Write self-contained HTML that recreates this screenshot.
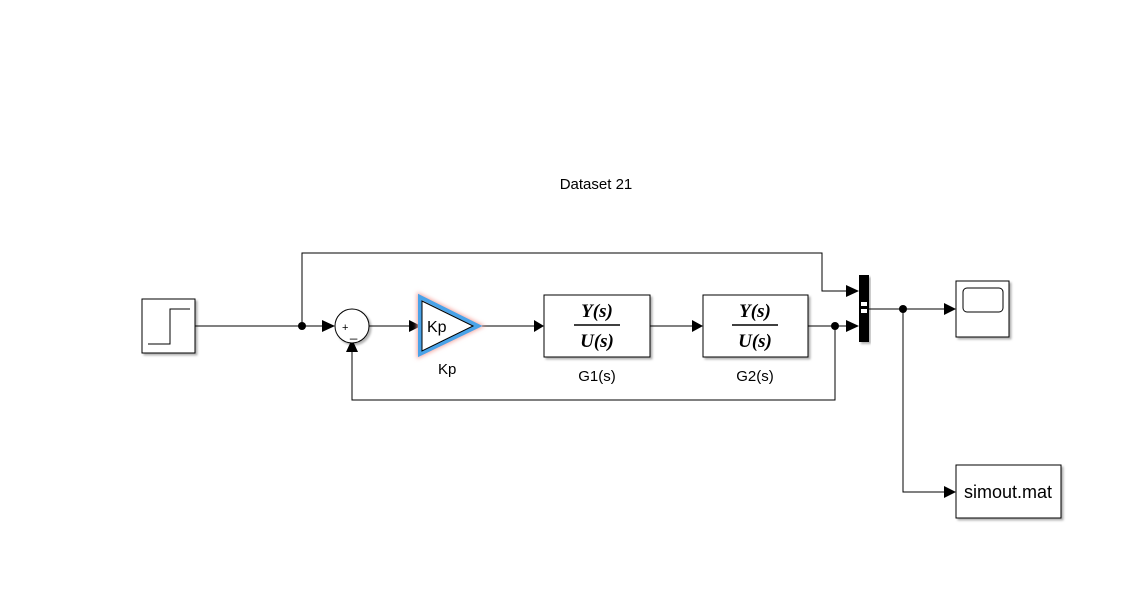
<!DOCTYPE html>
<html><head><meta charset="utf-8"><style>
html,body{margin:0;padding:0;background:#fff;}
svg{display:block;font-family:"Liberation Sans",sans-serif;}
</style></head><body>
<svg width="1122" height="589" viewBox="0 0 1122 589" xmlns="http://www.w3.org/2000/svg">
<defs>
<filter id="sh" x="-10%" y="-10%" width="130%" height="130%"><feDropShadow dx="2" dy="2" stdDeviation="1" flood-color="#000" flood-opacity="0.3"/></filter>
<filter id="glow" x="-30%" y="-30%" width="160%" height="160%"><feGaussianBlur stdDeviation="2"/></filter>
</defs>
<text x="596" y="189" font-size="15" text-anchor="middle">Dataset 21</text>
<g stroke="#000" stroke-width="1" fill="none">
<path d="M195 326H322"/>
<path d="M302 326V253H822V291H848"/>
<path d="M369 326H409"/>
<path d="M478 326H534"/>
<path d="M650 326H692"/>
<path d="M808 326H848"/>
<path d="M835 326V400H352V351"/>
<path d="M869 309H945"/>
<path d="M903 309V492H945"/>
</g>
<g fill="#000">
<circle cx="302" cy="326" r="4"/>
<circle cx="835" cy="326" r="4"/>
<circle cx="903" cy="309" r="4"/>
<path d="M322 320L335 326L322 332Z"/>
<path d="M409 320L421 326L409 332Z"/>
<path d="M534 320L544 326L534 332Z"/>
<path d="M692 320L703 326L692 332Z"/>
<path d="M846 285L859 291L846 297Z"/>
<path d="M846 320L859 326L846 332Z"/>
<path d="M944 303L956 309L944 315Z"/>
<path d="M944 486L956 492L944 498Z"/>
<path d="M346 352L352 339L358 352Z"/>
</g>
<rect x="142" y="299" width="53" height="54" fill="#fff" stroke="#000" filter="url(#sh)"/>
<path d="M148 344H170V309H190" stroke="#000" fill="none"/>
<circle cx="352" cy="326" r="17" fill="#fff" stroke="#000" filter="url(#sh)"/>
<text x="342" y="331" font-size="11">+</text>
<text x="350" y="337" font-size="13">_</text>
<path d="M420 297L478 326L420 354Z" fill="none" stroke="#f4a6a0" stroke-width="6" filter="url(#glow)"/>
<path d="M420 297L478 326L420 354Z" fill="#fff" stroke="#4aa3e8" stroke-width="4"/>
<path d="M422 301L473 326L422 351Z" fill="none" stroke="#000" stroke-width="1"/>
<text x="427" y="332" font-size="16">Kp</text>
<text x="438" y="374" font-size="15">Kp</text>
<rect x="544" y="295" width="106" height="62" fill="#fff" stroke="#000" filter="url(#sh)"/>
<text x="597" y="317" font-size="19" font-family="Liberation Serif" font-weight="bold" font-style="italic" text-anchor="middle">Y(s)</text>
<line x1="574" y1="325" x2="620" y2="325" stroke="#000" stroke-width="1.5"/>
<text x="597" y="347" font-size="19" font-family="Liberation Serif" font-weight="bold" font-style="italic" text-anchor="middle">U(s)</text>
<text x="597" y="381" font-size="15" text-anchor="middle">G1(s)</text>
<rect x="703" y="295" width="105" height="62" fill="#fff" stroke="#000" filter="url(#sh)"/>
<text x="755" y="317" font-size="19" font-family="Liberation Serif" font-weight="bold" font-style="italic" text-anchor="middle">Y(s)</text>
<line x1="732" y1="325" x2="778" y2="325" stroke="#000" stroke-width="1.5"/>
<text x="755" y="347" font-size="19" font-family="Liberation Serif" font-weight="bold" font-style="italic" text-anchor="middle">U(s)</text>
<text x="755" y="381" font-size="15" text-anchor="middle">G2(s)</text>
<rect x="859" y="275" width="10" height="67" fill="#000" filter="url(#sh)"/>
<rect x="861" y="302" width="6" height="4" fill="#fff"/>
<rect x="861" y="309" width="6" height="4" fill="#fff"/>
<rect x="956" y="281" width="53" height="56" fill="#fff" stroke="#000" filter="url(#sh)"/>
<rect x="963" y="288" width="40" height="24" rx="4" fill="#fff" stroke="#000"/>
<rect x="956" y="465" width="105" height="53" fill="#fff" stroke="#000" filter="url(#sh)"/>
<text x="1008" y="498" font-size="18" text-anchor="middle">simout.mat</text>
</svg>
</body></html>
